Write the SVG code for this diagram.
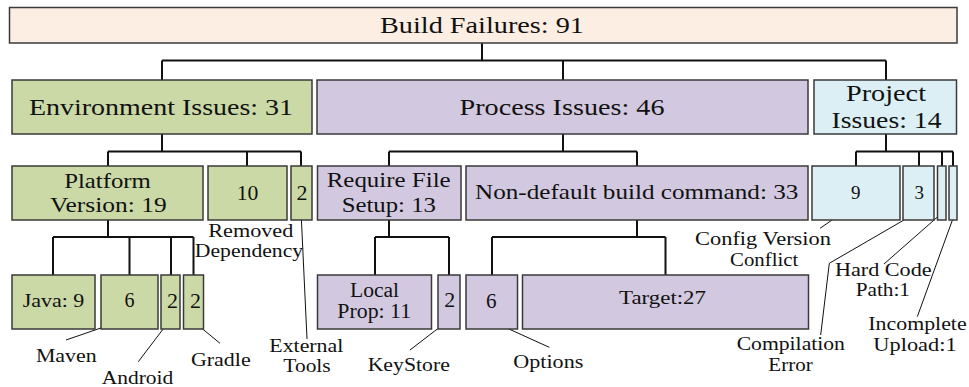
<svg xmlns="http://www.w3.org/2000/svg" width="969" height="387" viewBox="0 0 969 387">
  <style>
    .box { stroke: #3a3a3a; stroke-width: 1.5; }
    .root { fill: #fdeee4; }
    .env { fill: #cbd9a7; }
    .proc { fill: #d2c9e0; }
    .proj { fill: #dbeff4; }
    .t { font-family: "Liberation Serif", "Times New Roman", serif; text-anchor: middle; fill: #111; }
    .lbl { font-size: 19.5px; }
    .link { fill: none; stroke: #111; stroke-width: 2; }
    .lead { fill: none; stroke: #111; stroke-width: 1; }
  </style>

  <!-- tree connectors -->
  <g id="connectors">
    <path class="link" d="M482,43 V60.5 M162,60.5 H886 M162,60.5 V80 M563,60.5 V80 M886,60.5 V80"/>
    <path class="link" d="M162,134 V151.5 M108,151.5 H301 M108,151.5 V166 M247,151.5 V166 M301,151.5 V166"/>
    <path class="link" d="M563,134 V151.5 M389,151.5 H637 M389,151.5 V166 M637,151.5 V166"/>
    <path class="link" d="M886,134 V151.5 M856,151.5 H953 M856,151.5 V166 M919,151.5 V166 M942,151.5 V166 M953,151.5 V166"/>
    <path class="link" d="M108,220 V237 M53,237 H193.5 M53,237 V275 M129.5,237 V275 M171,237 V275 M193.5,237 V275"/>
    <path class="link" d="M389,220 V237 M375,237 H449 M375,237 V275 M449,237 V275"/>
    <path class="link" d="M637,220 V237 M492,237 H665.5 M492,237 V275 M665.5,237 V275"/>
  </g>

  <!-- callout lines from small boxes to their captions -->
  <g id="leaders">
    <path class="lead" d="M124,320 L66,340"/>
    <path class="lead" d="M170,320 L138.3,361.7"/>
    <path class="lead" d="M191.7,320 L220,343.3"/>
    <path class="lead" d="M301,211 L307,339"/>
    <path class="lead" d="M449,320 L410,350"/>
    <path class="lead" d="M489,320 L549.3,347.3"/>
    <path class="lead" d="M854,205 L820,228.3"/>
    <path class="lead" d="M918.3,211.7 L829.3,263.3 L820.7,335"/>
    <path class="lead" d="M941.7,213.3 L884,264"/>
    <path class="lead" d="M952.7,219.3 L917.3,316.7"/>
  </g>

  <g id="build-failures">
    <rect class="box root" x="9.5" y="7.5" width="947.5" height="35.5"/>
    <text class="t" x="482" y="33" font-size="24" textLength="204" lengthAdjust="spacingAndGlyphs">Build Failures: 91</text>
  </g>

  <g id="environment-issues">
    <rect class="box env" x="12" y="80" width="300" height="54"/>
    <text class="t" x="161" y="114.5" font-size="23" textLength="264" lengthAdjust="spacingAndGlyphs">Environment Issues: 31</text>
  </g>
  <g id="process-issues">
    <rect class="box proc" x="317" y="80" width="491" height="54"/>
    <text class="t" x="562" y="114.5" font-size="23" textLength="205" lengthAdjust="spacingAndGlyphs">Process Issues: 46</text>
  </g>
  <g id="project-issues">
    <rect class="box proj" x="814" y="80" width="142.5" height="54"/>
    <text class="t" x="886" y="100.5" font-size="23" textLength="80" lengthAdjust="spacingAndGlyphs">Project</text>
    <text class="t" x="886.5" y="128" font-size="23" textLength="110" lengthAdjust="spacingAndGlyphs">Issues: 14</text>
  </g>

  <g id="platform-version">
    <rect class="box env" x="12" y="166" width="191" height="54"/>
    <text class="t" x="107.5" y="188" font-size="21" textLength="86.7" lengthAdjust="spacingAndGlyphs">Platform</text>
    <text class="t" x="108.3" y="211.5" font-size="21" textLength="116.7" lengthAdjust="spacingAndGlyphs">Version: 19</text>
  </g>
  <g id="removed-dependency">
    <rect class="box env" x="208" y="166" width="79" height="54"/>
    <text class="t" x="247.5" y="199.5" font-size="22" textLength="21.7" lengthAdjust="spacingAndGlyphs">10</text>
    <text class="t lbl" x="250.8" y="237" textLength="85" lengthAdjust="spacingAndGlyphs">Removed</text>
    <text class="t lbl" x="249" y="257" textLength="108.3" lengthAdjust="spacingAndGlyphs">Dependency</text>
  </g>
  <g id="external-tools">
    <rect class="box env" x="291" y="166" width="21" height="54"/>
    <text class="t" x="302" y="199.5" font-size="22">2</text>
    <text class="t lbl" x="306.3" y="352" textLength="74" lengthAdjust="spacingAndGlyphs">External</text>
    <text class="t lbl" x="307" y="372" textLength="47.4" lengthAdjust="spacingAndGlyphs">Tools</text>
  </g>
  <g id="require-file-setup">
    <rect class="box proc" x="317.5" y="166" width="143.5" height="54"/>
    <text class="t" x="388.7" y="187" font-size="21" textLength="124" lengthAdjust="spacingAndGlyphs">Require File</text>
    <text class="t" x="388.8" y="211.5" font-size="21" textLength="94.3" lengthAdjust="spacingAndGlyphs">Setup: 13</text>
  </g>
  <g id="non-default-build-command">
    <rect class="box proc" x="466" y="166" width="342" height="54"/>
    <text class="t" x="636.7" y="198.5" font-size="21" textLength="323.3" lengthAdjust="spacingAndGlyphs">Non-default build command: 33</text>
  </g>
  <g id="config-version-conflict">
    <rect class="box proj" x="812" y="166" width="88" height="54"/>
    <text class="t" x="855.8" y="198.5" font-size="19">9</text>
    <text class="t lbl" x="763" y="245" textLength="136" lengthAdjust="spacingAndGlyphs">Config Version</text>
    <text class="t lbl" x="764.2" y="265.5" textLength="68.3" lengthAdjust="spacingAndGlyphs">Conflict</text>
  </g>
  <g id="compilation-error">
    <rect class="box proj" x="903" y="166" width="31" height="54"/>
    <text class="t" x="919.2" y="198.5" font-size="19">3</text>
    <text class="t lbl" x="790.8" y="349.5" textLength="108.3" lengthAdjust="spacingAndGlyphs">Compilation</text>
    <text class="t lbl" x="790.5" y="370.5" textLength="44.3" lengthAdjust="spacingAndGlyphs">Error</text>
  </g>
  <g id="hard-code-path">
    <rect class="box proj" x="937.5" y="166" width="8.5" height="54"/>
    <text class="t lbl" x="883.3" y="275.5" textLength="96.7" lengthAdjust="spacingAndGlyphs">Hard Code</text>
    <text class="t lbl" x="882.8" y="295.5" textLength="54.3" lengthAdjust="spacingAndGlyphs">Path:1</text>
  </g>
  <g id="incomplete-upload">
    <rect class="box proj" x="949" y="166" width="8" height="54"/>
    <text class="t lbl" x="917.5" y="330" textLength="98.3" lengthAdjust="spacingAndGlyphs">Incomplete</text>
    <text class="t lbl" x="915" y="350.5" textLength="83.3" lengthAdjust="spacingAndGlyphs">Upload:1</text>
  </g>

  <g id="java">
    <rect class="box env" x="12" y="275" width="83" height="54"/>
    <text class="t" x="53.5" y="307" font-size="19" textLength="61.7" lengthAdjust="spacingAndGlyphs">Java: 9</text>
  </g>
  <g id="maven">
    <rect class="box env" x="101" y="275" width="57" height="54"/>
    <text class="t" x="129.5" y="307" font-size="20">6</text>
    <text class="t lbl" x="66.3" y="362" textLength="60.7" lengthAdjust="spacingAndGlyphs">Maven</text>
  </g>
  <g id="android">
    <rect class="box env" x="161" y="275" width="19" height="54"/>
    <text class="t" x="172.5" y="307.5" font-size="22">2</text>
    <text class="t lbl" x="137.5" y="383.5" textLength="71.6" lengthAdjust="spacingAndGlyphs">Android</text>
  </g>
  <g id="gradle">
    <rect class="box env" x="183.5" y="275" width="20" height="54"/>
    <text class="t" x="195.5" y="307.5" font-size="22">2</text>
    <text class="t lbl" x="220.8" y="365.5" textLength="59.7" lengthAdjust="spacingAndGlyphs">Gradle</text>
  </g>
  <g id="local-prop">
    <rect class="box proc" x="317.5" y="275" width="114" height="54"/>
    <text class="t" x="374.5" y="297" font-size="20" textLength="49" lengthAdjust="spacingAndGlyphs">Local</text>
    <text class="t" x="374.2" y="317.5" font-size="20" textLength="73.7" lengthAdjust="spacingAndGlyphs">Prop: 11</text>
  </g>
  <g id="keystore">
    <rect class="box proc" x="438" y="275" width="22" height="54"/>
    <text class="t" x="449.7" y="307" font-size="22">2</text>
    <text class="t lbl" x="408.8" y="370.5" textLength="82.3" lengthAdjust="spacingAndGlyphs">KeyStore</text>
  </g>
  <g id="options">
    <rect class="box proc" x="466" y="275" width="51.5" height="54"/>
    <text class="t" x="491.2" y="308" font-size="21">6</text>
    <text class="t lbl" x="548.3" y="368" textLength="70" lengthAdjust="spacingAndGlyphs">Options</text>
  </g>
  <g id="target">
    <rect class="box proc" x="522.5" y="275" width="286" height="54"/>
    <text class="t" x="662.5" y="303.5" font-size="19" textLength="87" lengthAdjust="spacingAndGlyphs">Target:27</text>
  </g>
</svg>
